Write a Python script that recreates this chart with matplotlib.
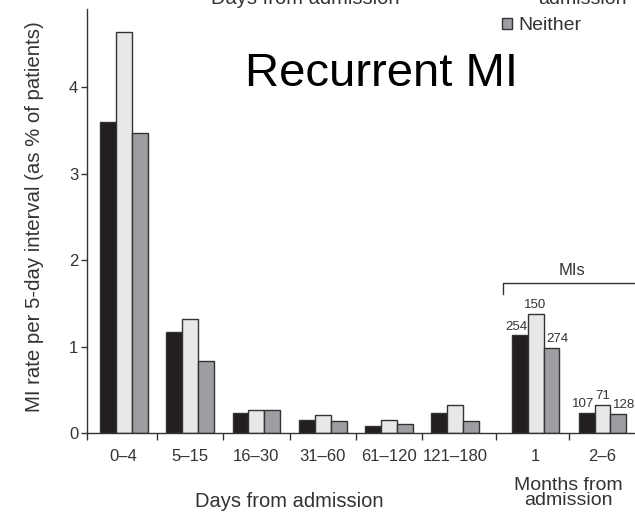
import matplotlib
matplotlib.use("Agg")
import matplotlib.pyplot as plt
import numpy as np

plt.rcParams['font.family'] = ['Liberation Sans', 'DejaVu Sans']

# data (MI rate per 5-day interval, % of patients)
day_labels = ["0\u20134", "5\u201315", "16\u201330", "31\u201360", "61\u2013120", "121\u2013180"]
month_labels = ["1", "2\u20136"]
first_vals = [3.60, 1.165, 0.24, 0.157, 0.08, 0.23, 1.13, 0.24]
second_vals = [4.63, 1.32, 0.27, 0.21, 0.15, 0.33, 1.38, 0.33]
neither_vals = [3.47, 0.83, 0.27, 0.14, 0.11, 0.14, 0.99, 0.22]
month_counts_first = [254, 107]
month_counts_second = [150, 71]
month_counts_neither = [274, 128]

TXT = "#333333"
C_DARK = "#231f20"
C_LIGHT = "#e8e8e8"
C_GREY = "#9d9ea2"
EDGE = "#333333"

def main():
    fig = plt.figure(figsize=(6.35, 5.14), dpi=100)
    ax = fig.add_axes([0.1365, 0.157, 1 - 0.1365, 0.9825 - 0.157])

    pos = np.array(list(range(len(day_labels))) + [6.21, 7.22])
    w = 0.24
    ax.bar(pos - w, first_vals, w, color=C_DARK, edgecolor=EDGE, linewidth=1)
    ax.bar(pos, second_vals, w, color=C_LIGHT, edgecolor=EDGE, linewidth=1)
    neither = ax.bar(pos + w, neither_vals, w, color=C_GREY, edgecolor=EDGE, linewidth=1)

    # count labels above the month bars
    for k, p in enumerate(pos[-2:]):
        i = len(day_labels) + k
        ax.annotate(str(month_counts_first[k]), (p - w, first_vals[i]), xytext=(-2.5, 2),
                    textcoords="offset points", ha="center", va="bottom", fontsize=9.5, color=TXT)
        ax.annotate(str(month_counts_second[k]), (p, second_vals[i]), xytext=(0, 2),
                    textcoords="offset points", ha="center", va="bottom", fontsize=9.5, color=TXT)
        ax.annotate(str(month_counts_neither[k]), (p + w, neither_vals[i]), xytext=(4, 2),
                    textcoords="offset points", ha="center", va="bottom", fontsize=9.5, color=TXT)

    ax.set_xlim(-0.56, 7.71)
    ax.set_ylim(0, 4.9)

    # boundary ticks (no labels) and centred category labels
    ax.set_xticks([-0.56, 0.5, 1.5, 2.5, 3.5, 4.5, 5.62, 6.71])
    ax.set_xticklabels([])
    ax.set_xticks(pos, day_labels + month_labels, minor=True)
    ax.tick_params(axis="x", which="major", direction="out", length=5, width=1, color=EDGE)
    ax.tick_params(axis="x", which="minor", length=0, pad=11, labelsize=12, labelcolor=TXT)
    ax.set_yticks([0, 1, 2, 3, 4])
    ax.tick_params(axis="y", direction="out", length=4, width=1, color=EDGE,
                   labelsize=12, labelcolor=TXT, pad=2)

    for s in ["top", "right"]:
        ax.spines[s].set_visible(False)
    for s in ["left", "bottom"]:
        ax.spines[s].set_color(EDGE)
        ax.spines[s].set_linewidth(1)

    ax.set_ylabel("MI rate per 5-day interval (as % of patients)", fontsize=14.7,
                  color=TXT)
    ax.yaxis.set_label_coords(-0.077, 0.51)
    ax.text(2.5, -0.79, "Days from admission", ha="center", va="center",
            fontsize=14.5, color=TXT)
    ax.text(6.70, -0.69, "Months from\nadmission", ha="center", va="center",
            fontsize=14, color=TXT, linespacing=0.85)

    # "MIs" bracket over the month groups
    ax.plot([5.72, 5.72, 7.71], [1.607, 1.73, 1.73], color=EDGE, lw=1, clip_on=False)
    ax.text(6.755, 1.876, "MIs", ha="center", va="center", fontsize=12, color=TXT)

    fig.text(245 / 635, 1 - 86 / 514, "Recurrent MI", ha="left", va="baseline",
             fontsize=34, color="black")

    fig.legend([neither], ["Neither"], loc="upper left", bbox_to_anchor=(0.775, 0.985),
               frameon=False, fontsize=14, handlelength=0.5, handleheight=0.55,
               handletextpad=0.35, borderpad=0, labelcolor=TXT)

    # cut-off labels from the panel above
    fig.text(305 / 635, 1 - 4 / 514, "Days from admission", ha="center", va="baseline",
             fontsize=14.5, color=TXT)
    fig.text(582 / 635, 1 - 4 / 514, "admission", ha="center", va="baseline",
             fontsize=14, color=TXT)

    fig.savefig("out.png", dpi=100)


if __name__ == "__main__":
    main()
